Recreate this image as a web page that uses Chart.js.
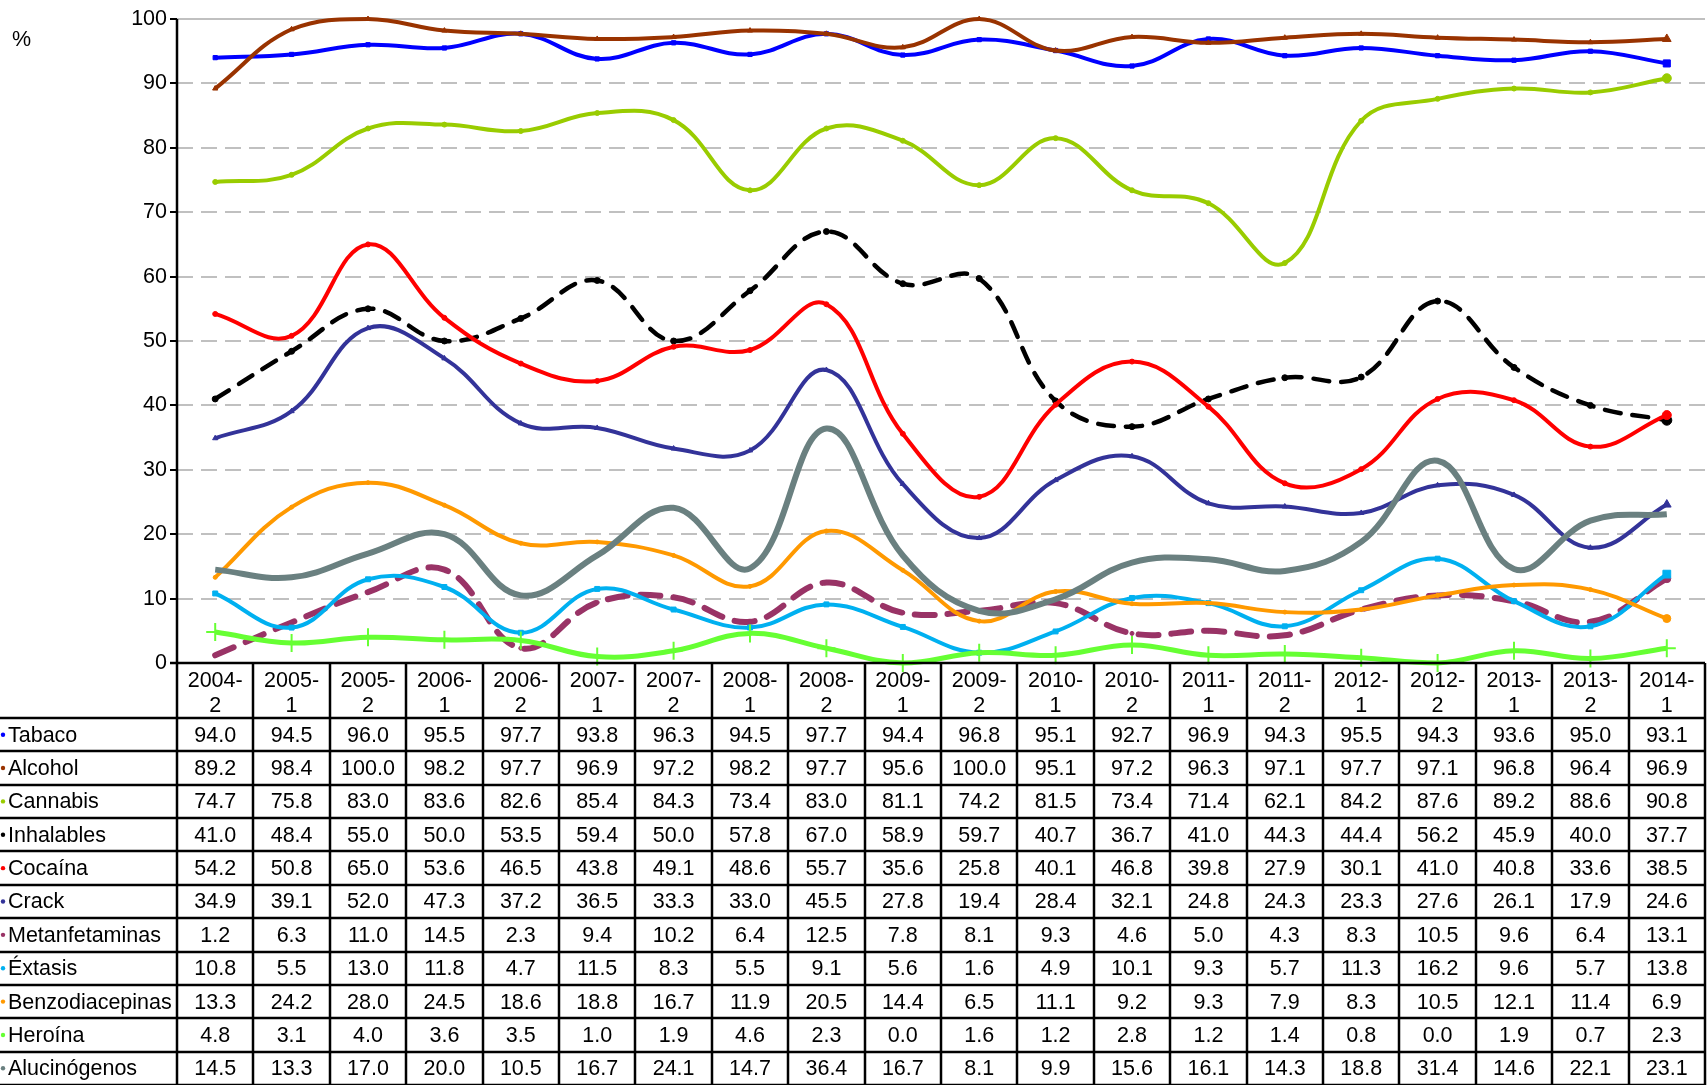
<!DOCTYPE html>
<html>
<head>
<meta charset="utf-8">
<script src="https://cdn.jsdelivr.net/npm/chart.js@4.4.1/dist/chart.umd.min.js"></script>
<style>
  html, body { margin: 0; padding: 0; background: #fff; overflow: hidden; }
  #wrap { position: relative; width: 1716px; height: 1085px; }
</style>
</head>
<body>
<div id="wrap"><canvas id="chart"></canvas></div>
<script>
const periods = ["2004-2","2005-1","2005-2","2006-1","2006-2","2007-1","2007-2","2008-1","2008-2","2009-1",
                 "2009-2","2010-1","2010-2","2011-1","2011-2","2012-1","2012-2","2013-1","2013-2","2014-1"];

const tabaco         = [94.0,94.5,96.0,95.5,97.7,93.8,96.3,94.5,97.7,94.4,96.8,95.1,92.7,96.9,94.3,95.5,94.3,93.6,95.0,93.1];
const alcohol        = [89.2,98.4,100.0,98.2,97.7,96.9,97.2,98.2,97.7,95.6,100.0,95.1,97.2,96.3,97.1,97.7,97.1,96.8,96.4,96.9];
const cannabis       = [74.7,75.8,83.0,83.6,82.6,85.4,84.3,73.4,83.0,81.1,74.2,81.5,73.4,71.4,62.1,84.2,87.6,89.2,88.6,90.8];
const inhalables     = [41.0,48.4,55.0,50.0,53.5,59.4,50.0,57.8,67.0,58.9,59.7,40.7,36.7,41.0,44.3,44.4,56.2,45.9,40.0,37.7];
const cocaina        = [54.2,50.8,65.0,53.6,46.5,43.8,49.1,48.6,55.7,35.6,25.8,40.1,46.8,39.8,27.9,30.1,41.0,40.8,33.6,38.5];
const crack          = [34.9,39.1,52.0,47.3,37.2,36.5,33.3,33.0,45.5,27.8,19.4,28.4,32.1,24.8,24.3,23.3,27.6,26.1,17.9,24.6];
const metanfetaminas = [1.2,6.3,11.0,14.5,2.3,9.4,10.2,6.4,12.5,7.8,8.1,9.3,4.6,5.0,4.3,8.3,10.5,9.6,6.4,13.1];
const extasis        = [10.8,5.5,13.0,11.8,4.7,11.5,8.3,5.5,9.1,5.6,1.6,4.9,10.1,9.3,5.7,11.3,16.2,9.6,5.7,13.8];
const benzodiacepinas= [13.3,24.2,28.0,24.5,18.6,18.8,16.7,11.9,20.5,14.4,6.5,11.1,9.2,9.3,7.9,8.3,10.5,12.1,11.4,6.9];
const heroina        = [4.8,3.1,4.0,3.6,3.5,1.0,1.9,4.6,2.3,0.0,1.6,1.2,2.8,1.2,1.4,0.8,0.0,1.9,0.7,2.3];
const alucinogenos   = [14.5,13.3,17.0,20.0,10.5,16.7,24.1,14.7,36.4,16.7,8.1,9.9,15.6,16.1,14.3,18.8,31.4,14.6,22.1,23.1];

const yTicks = [0,10,20,30,40,50,60,70,80,90,100];

const series = [
  { name: "Tabaco",          data: tabaco,          color: "#0000FF", width: 4, style: "rect",     r: 3 },
  { name: "Alcohol",         data: alcohol,         color: "#993300", width: 4, style: "triangle", r: 3 },
  { name: "Cannabis",        data: cannabis,        color: "#99CC00", width: 4, style: "circle",   r: 2.5 },
  { name: "Inhalables",      data: inhalables,      color: "#000000", width: 4.5, style: "circle", r: 3, dash: [16, 12] },
  { name: "Cocaína",         data: cocaina,         color: "#FF0000", width: 4, style: "circle",   r: 2.5 },
  { name: "Crack",           data: crack,           color: "#333399", width: 4, style: "triangle", r: 3 },
  { name: "Metanfetaminas",  data: metanfetaminas,  color: "#993366", width: 6, style: "circle",   r: 2, dash: [20, 13] },
  { name: "Éxtasis",         data: extasis,         color: "#00B0F0", width: 4, style: "rect",     r: 3.5 },
  { name: "Benzodiacepinas", data: benzodiacepinas, color: "#FF9900", width: 4, style: "circle",   r: 2 },
  { name: "Heroína",         data: heroina,         color: "#66FF33", width: 5, style: "cross",    r: 9 },
  { name: "Alucinógenos",    data: alucinogenos,    color: "#6A8080", width: 6, style: "circle",   r: 0 }
];

const FONT = "'Liberation Sans', Arial, sans-serif";

const tablePlugin = {
  id: "dataTable",
  afterDraw(chart) {
    const { ctx, chartArea, scales: { x, y } } = chart;
    const top = y.getPixelForValue(0);
    const colW = x.getPixelForValue(1) - x.getPixelForValue(0);
    const headBottom = top + 55;
    const rowH = (chart.height - headBottom) / series.length;
    const left = chartArea.left;
    const right = left + colW * periods.length;

    ctx.save();
    ctx.fillStyle = "#000";
    ctx.font = "21.5px " + FONT;
    ctx.textBaseline = "middle";

    // "%" label
    ctx.textAlign = "left";
    ctx.fillText("%", 12, 40);

    // header
    ctx.textAlign = "center";
    periods.forEach((p, i) => {
      const cx = x.getPixelForValue(i);
      const parts = p.split("-");
      ctx.fillText(parts[0] + "-", cx, top + 18);
      ctx.fillText(parts[1], cx, top + 43);
    });

    // rows
    series.forEach((s, r) => {
      const cy = headBottom + rowH * (r + 0.5);
      ctx.textAlign = "left";
      ctx.fillStyle = s.color;
      ctx.beginPath();
      ctx.arc(3, cy, 2.2, 0, Math.PI * 2);
      ctx.fill();
      ctx.fillStyle = "#000";
      ctx.fillText(s.name, 8, cy + 1);
      ctx.textAlign = "center";
      s.data.forEach((v, i) => {
        ctx.fillText(v.toFixed(1), x.getPixelForValue(i), cy + 1);
      });
    });

    // lines
    ctx.strokeStyle = "#000";
    ctx.lineWidth = 2.5;
    ctx.beginPath();
    for (let i = 0; i <= periods.length; i++) {
      const lx = Math.round(left + colW * i);
      ctx.moveTo(lx, i === 0 ? chartArea.top : top);
      ctx.lineTo(lx, chart.height);
    }
    ctx.moveTo(left - 7, top);
    ctx.lineTo(right, top);
    for (let r = 0; r <= series.length; r++) {
      const ly = Math.round(headBottom + rowH * r);
      ctx.moveTo(0, ly);
      ctx.lineTo(right, ly);
    }
    ctx.stroke();
    ctx.restore();
  }
};

const datasets = series.map((s, i) => ({
  label: s.name,
  data: s.data,
  borderColor: s.color,
  backgroundColor: s.color,
  borderWidth: s.width,
  borderDash: s.dash || [],
  borderCapStyle: s.dash ? "round" : "butt",
  pointStyle: s.style,
  pointRadius: ctx => (s.r > 0 && ctx.dataIndex === periods.length - 1 && s.style !== "cross") ? s.r + 2 : s.r,
  pointBorderWidth: s.style === "cross" ? 2 : 1,
  pointBorderColor: s.color,
  pointBackgroundColor: s.color,
  tension: 0.4,
  fill: false,
  clip: 14,
  order: -i
}));

new Chart(document.getElementById("chart"), {
  type: "line",
  data: { labels: periods, datasets },
  options: {
    responsive: true,
    maintainAspectRatio: false,
    devicePixelRatio: 1,
    animation: false,
    events: [],
    layout: { padding: { top: 19, left: 0, right: 1, bottom: 0 } },
    plugins: { legend: { display: false }, tooltip: { enabled: false } },
    scales: {
      x: {
        offset: true,
        grid: { display: false },
        border: { display: false },
        ticks: { display: false },
        afterFit: s => { s.height = 422; }
      },
      y: {
        min: 0,
        max: 100,
        afterBuildTicks: s => { s.ticks = yTicks.map(v => ({ value: v })); },
        ticks: { color: "#000", font: { family: FONT, size: 21.5 }, padding: 3 },
        grid: {
          color: c => c.tick && c.tick.value === 0 ? "#000" : "#C0C0C0",
          lineWidth: 2,
          drawTicks: true,
          tickLength: 7,
          tickColor: "#000",
          tickWidth: 2
        },
        border: {
          display: false,
          dash: c => c.tick && (c.tick.value === 100 || c.tick.value === 0) ? [] : [16, 8]
        },
        afterFit: s => { s.width = 177; }
      }
    }
  },
  plugins: [tablePlugin]
});
</script>
</body>
</html>
